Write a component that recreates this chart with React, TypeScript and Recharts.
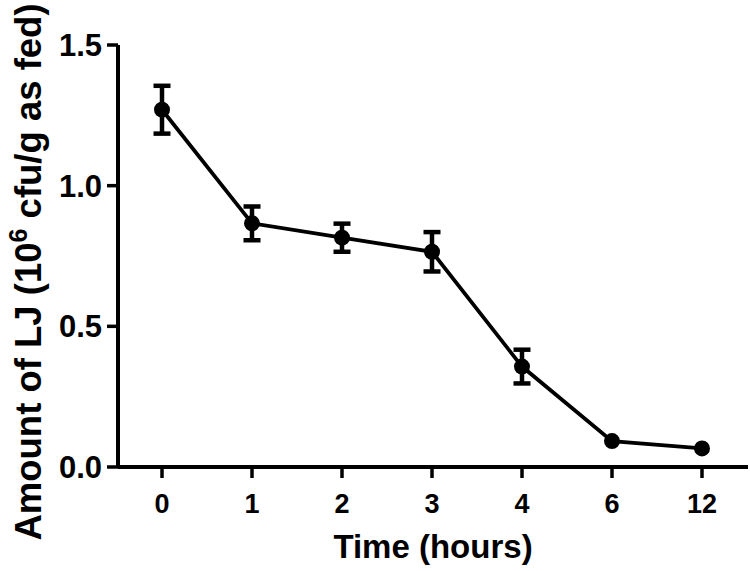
import { ErrorBar, Line, LineChart, XAxis, YAxis } from "recharts";

const hours = ["0", "1", "2", "3", "4", "6", "12"];
const amount = [1.27, 0.866, 0.815, 0.765, 0.357, 0.092, 0.066];
const sem = [0.085, 0.06, 0.05, 0.07, 0.06, null, null];
const yTicks = [0, 0.5, 1.0, 1.5];

const font = "'Liberation Sans', Arial, sans-serif";

const data = hours.map((h, i) => ({ hour: h, amount: amount[i], err: sem[i] }));

function YTitle() {
  return (
    <text
      transform="rotate(-90)"
      x={-272}
      y={41}
      textAnchor="middle"
      fontFamily={font}
      fontWeight="bold"
      fontSize={36.5}
      fill="#000"
    >
      Amount of LJ (10
      <tspan dy={-14} fontSize={25}>
        6
      </tspan>
      <tspan dy={14}> cfu/g as fed)</tspan>
    </text>
  );
}

function XTitle() {
  return (
    <text
      x={433}
      y={558}
      textAnchor="middle"
      fontFamily={font}
      fontWeight="bold"
      fontSize={33}
      fill="#000"
    >
      Time (hours)
    </text>
  );
}

export default function App() {
  return (
    <div style={{ position: "absolute", left: 0, top: 0, background: "#fff" }}>
      <LineChart
        width={750}
        height={571}
        data={data}
        margin={{ top: 45, right: 2, bottom: 0, left: 0 }}
      >
        <XAxis
          dataKey="hour"
          type="category"
          interval={0}
          padding={{ left: 44, right: 46 }}
          height={104}
          axisLine={{ stroke: "#000", strokeWidth: 4 }}
          tickLine={{ stroke: "#000", strokeWidth: 3.5 }}
          tickSize={11}
          tickMargin={16}
          tick={{ fill: "#000", fontSize: 27, fontWeight: "bold", fontFamily: font }}
          label={<XTitle />}
        />
        <YAxis
          width={118}
          domain={[0, 1.5]}
          ticks={yTicks}
          tickFormatter={(v: number) => v.toFixed(1)}
          axisLine={{ stroke: "#000", strokeWidth: 4 }}
          tickLine={{ stroke: "#000", strokeWidth: 3.5 }}
          tickSize={11}
          tickMargin={5}
          tick={{ fill: "#000", fontSize: 31, fontWeight: "bold", fontFamily: font }}
          label={<YTitle />}
        />
        <Line
          dataKey="amount"
          stroke="#000"
          strokeWidth={3.8}
          dot={{ r: 8, fill: "#000", stroke: "#000", strokeWidth: 0 }}
          isAnimationActive={false}
        >
          <ErrorBar dataKey="err" direction="y" width={8.5} stroke="#000" strokeWidth={4.5} />
        </Line>
      </LineChart>
    </div>
  );
}
